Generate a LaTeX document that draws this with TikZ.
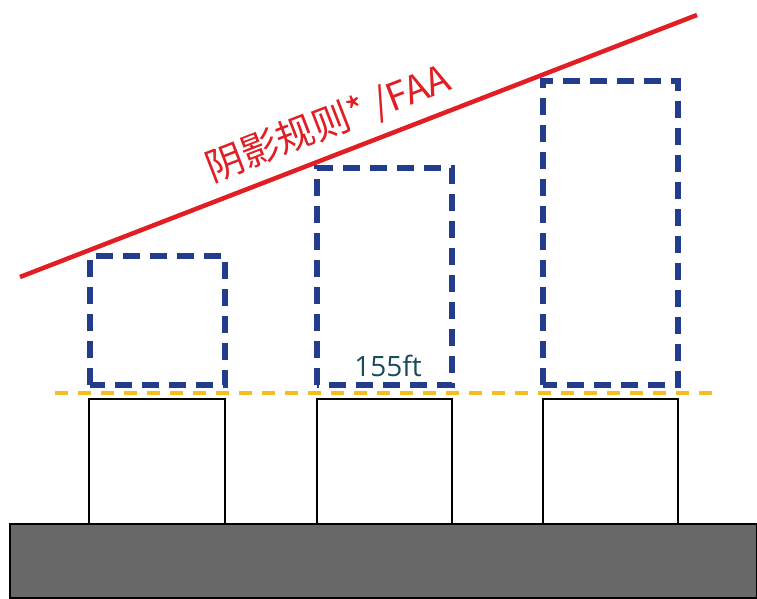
\documentclass[tikz,border=0pt]{standalone}
\usepackage{fontspec}
\usepackage{tikz}
\setmainfont{Open Sans}
\newfontfamily\cjk{Noto Sans CJK SC}
\definecolor{envblue}{RGB}{35,60,140}
\definecolor{rulered}{RGB}{225,30,35}
\definecolor{limitgold}{RGB}{245,190,30}
\definecolor{groundgray}{RGB}{104,104,104}
\definecolor{labelteal}{RGB}{25,75,90}
\tikzset{
  envelope/.style={envblue,line width=6.5pt,dash pattern=on 17pt off 10pt},
  tower/.style={black,line width=1.6pt}
}

\begin{document}
\begin{tikzpicture}[x=1pt,y=-1pt]
       \useasboundingbox (0,0) rectangle (757,599);
       \fill[white] (0,0) rectangle (757,599);
       % ground
       \draw[line width=2.2pt,fill=groundgray] (10,524) rectangle (757,598);
       % existing buildings
       \draw[tower] (89,399) rectangle (225,524);
       \draw[tower] (317,399) rectangle (452,524);
       \draw[tower] (543,399) rectangle (678,524);
       % height limit
       \draw[limitgold,line width=3.5pt,dash pattern=on 13pt off 10pt] (55,393) -- (718,393);
       % building envelopes
       \draw[envelope] (90,385) rectangle (225,256);
       \draw[envelope] (317,385) rectangle (452,168);
       \draw[envelope] (543,385) rectangle (678,81);
       % shadow / FAA line
       \draw[rulered,line width=4.5pt] (20,277) -- (697,15);
       \node[rulered,rotate=21.2,font=\cjk\fontsize{38}{44}\selectfont] (rule) at (328,124) {阴影规则* /FAA};
       \node[labelteal,font=\fontsize{28}{32}\selectfont] (height) at (388,366) {155ft};
      \end{tikzpicture}
\end{document}
